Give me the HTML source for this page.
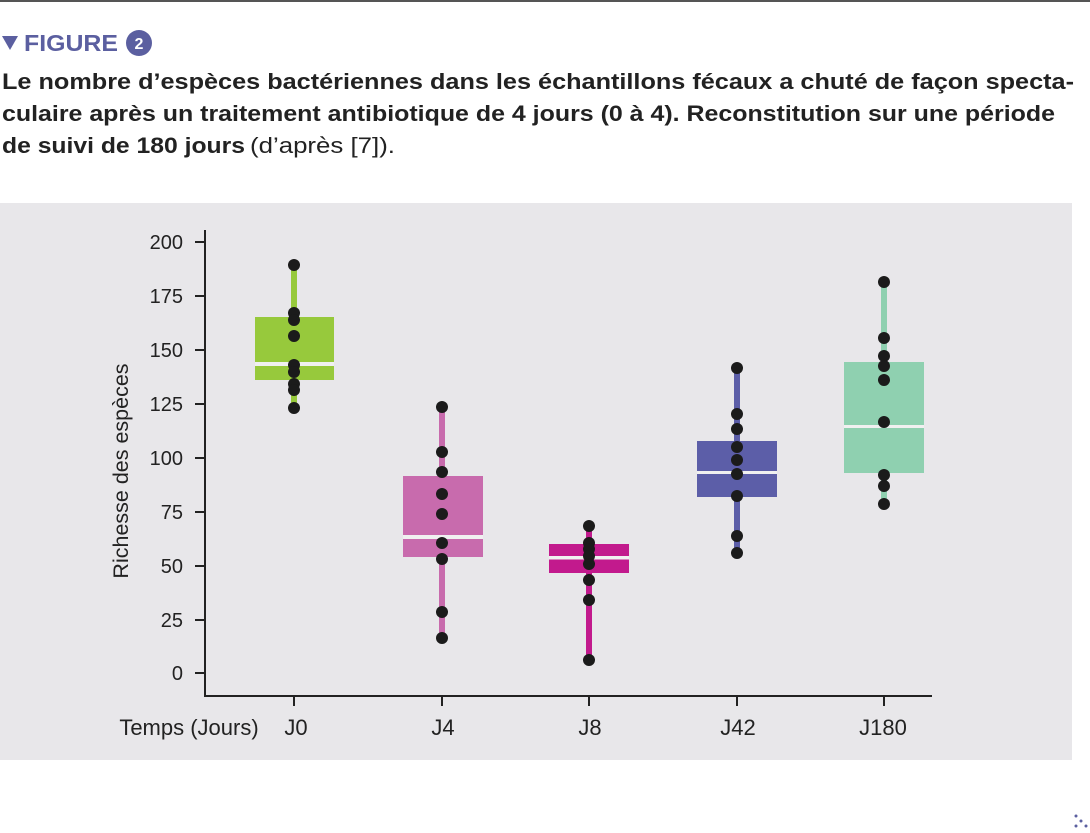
<!DOCTYPE html>
<html><head><meta charset="utf-8"><style>
body{margin:0;width:1090px;height:833px;background:#fff;position:relative;overflow:hidden;font-family:"Liberation Sans",sans-serif}
.top{position:absolute;left:0;top:0;width:1090px;height:2px;background:#555}
.panel{position:absolute;left:0;top:203px;width:1072px;height:557px;background:#e8e7ea}
svg{position:absolute;left:0;top:0}
</style></head><body>
<div class="top"></div>
<div class="panel"></div>
<svg width="1090" height="833" font-family="Liberation Sans, sans-serif" font-size="20" fill="#222">
<polygon points="2,36 18,36 10,50" fill="#5b5fa0"/>
<text x="24" y="51" font-size="23" font-weight="bold" fill="#5b5fa0" textLength="94" lengthAdjust="spacingAndGlyphs">FIGURE</text>
<circle cx="139" cy="43" r="13" fill="#5b5fa0"/>
<text x="139" y="49" font-size="16" font-weight="bold" fill="#fff" text-anchor="middle">2</text>
<g font-size="22.5" font-weight="bold" fill="#222">
<text x="2" y="89" textLength="1072" lengthAdjust="spacingAndGlyphs">Le nombre d’espèces bactériennes dans les échantillons fécaux a chuté de façon specta-</text>
<text x="2" y="121" textLength="1053" lengthAdjust="spacingAndGlyphs">culaire après un traitement antibiotique de 4 jours (0 à 4). Reconstitution sur une période</text>
<text x="2" y="153" textLength="243" lengthAdjust="spacingAndGlyphs">de suivi de 180 jours</text>
<text x="250" y="153" font-weight="normal" textLength="145" lengthAdjust="spacingAndGlyphs">(d’après [7]).</text>
</g>
<g fill="#5b5fa0"><circle cx="1076" cy="816" r="1.5"/><circle cx="1081" cy="821" r="1.5"/><circle cx="1076" cy="826" r="1.5"/><circle cx="1086" cy="826" r="1.5"/></g>
<g stroke="#222" stroke-width="2">
<line x1="205" y1="230" x2="205" y2="697"/><line x1="204" y1="696" x2="932" y2="696"/>
<line x1="195" y1="242" x2="205" y2="242"/><line x1="195" y1="296" x2="205" y2="296"/><line x1="195" y1="350" x2="205" y2="350"/><line x1="195" y1="404" x2="205" y2="404"/><line x1="195" y1="458" x2="205" y2="458"/><line x1="195" y1="512" x2="205" y2="512"/><line x1="195" y1="566" x2="205" y2="566"/><line x1="195" y1="620" x2="205" y2="620"/><line x1="195" y1="673" x2="205" y2="673"/>
<line x1="294" y1="696" x2="294" y2="706"/><line x1="442" y1="696" x2="442" y2="706"/><line x1="589" y1="696" x2="589" y2="706"/><line x1="737" y1="696" x2="737" y2="706"/><line x1="884" y1="696" x2="884" y2="706"/>
</g>
<g text-anchor="end"><text x="183" y="249">200</text><text x="183" y="303">175</text><text x="183" y="357">150</text><text x="183" y="411">125</text><text x="183" y="465">100</text><text x="183" y="519">75</text><text x="183" y="573">50</text><text x="183" y="627">25</text><text x="183" y="680">0</text></g>
<text transform="translate(128,471) rotate(-90)" text-anchor="middle" font-size="21.5">Richesse des espèces</text>
<g font-size="22" text-anchor="middle"><text x="189" y="735">Temps (Jours)</text><text x="296" y="735">J0</text><text x="443" y="735">J4</text><text x="590" y="735">J8</text><text x="738" y="735">J42</text><text x="883" y="735">J180</text></g>
<line x1="294" y1="265" x2="294" y2="408" stroke="#97c93c" stroke-width="6"/>
<rect x="255" y="317" width="79" height="63" fill="#97c93c"/><rect x="255" y="362" width="79" height="4" fill="#f0f0f0"/>
<line x1="442" y1="407" x2="442" y2="638" stroke="#c86bad" stroke-width="6"/>
<rect x="403" y="476" width="80" height="81" fill="#c86bad"/><rect x="403" y="535" width="80" height="4" fill="#f0f0f0"/>
<line x1="589" y1="526" x2="589" y2="660" stroke="#c21a8d" stroke-width="6"/>
<rect x="549" y="544" width="80" height="29" fill="#c21a8d"/><rect x="549" y="556" width="80" height="3.5" fill="#f0f0f0"/>
<line x1="737" y1="368" x2="737" y2="553" stroke="#5c5ea8" stroke-width="6"/>
<rect x="697" y="441" width="80" height="56" fill="#5c5ea8"/><rect x="697" y="471" width="80" height="3" fill="#f0f0f0"/>
<line x1="884" y1="282" x2="884" y2="504" stroke="#8fd0b0" stroke-width="6"/>
<rect x="844" y="362" width="80" height="111" fill="#8fd0b0"/><rect x="844" y="425" width="80" height="3" fill="#f0f0f0"/>
<g fill="#1b1b1b">
<circle cx="294" cy="265" r="6"/><circle cx="294" cy="313" r="6"/><circle cx="294" cy="320" r="6"/><circle cx="294" cy="336" r="6"/><circle cx="294" cy="365" r="6"/><circle cx="294" cy="372" r="6"/><circle cx="294" cy="384" r="6"/><circle cx="294" cy="390" r="6"/><circle cx="294" cy="408" r="6"/>
<circle cx="442" cy="407" r="6"/><circle cx="442" cy="452" r="6"/><circle cx="442" cy="472" r="6"/><circle cx="442" cy="494" r="6"/><circle cx="442" cy="514" r="6"/><circle cx="442" cy="543" r="6"/><circle cx="442" cy="559" r="6"/><circle cx="442" cy="612" r="6"/><circle cx="442" cy="638" r="6"/>
<circle cx="589" cy="526" r="6"/><circle cx="589" cy="543" r="6"/><circle cx="589" cy="549" r="6"/><circle cx="589" cy="556" r="6"/><circle cx="589" cy="564" r="6"/><circle cx="589" cy="580" r="6"/><circle cx="589" cy="600" r="6"/><circle cx="589" cy="660" r="6"/>
<circle cx="737" cy="368" r="6"/><circle cx="737" cy="414" r="6"/><circle cx="737" cy="429" r="6"/><circle cx="737" cy="447" r="6"/><circle cx="737" cy="460" r="6"/><circle cx="737" cy="474" r="6"/><circle cx="737" cy="496" r="6"/><circle cx="737" cy="536" r="6"/><circle cx="737" cy="553" r="6"/>
<circle cx="884" cy="282" r="6"/><circle cx="884" cy="338" r="6"/><circle cx="884" cy="356" r="6"/><circle cx="884" cy="366" r="6"/><circle cx="884" cy="380" r="6"/><circle cx="884" cy="422" r="6"/><circle cx="884" cy="475" r="6"/><circle cx="884" cy="486" r="6"/><circle cx="884" cy="504" r="6"/>
</g>
</svg>
</body></html>
